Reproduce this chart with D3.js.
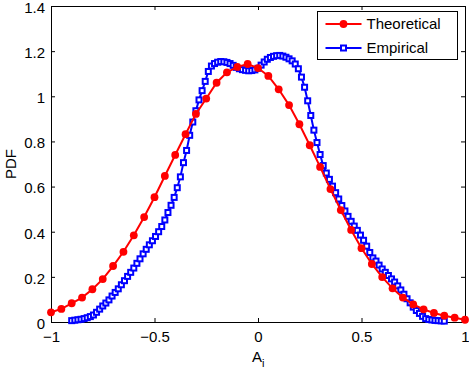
<!DOCTYPE html>
<html>
<head>
<meta charset="utf-8">
<script src="https://cdn.jsdelivr.net/npm/d3@7"></script>
<style>
  html, body { margin: 0; padding: 0; background: #fff; }
  svg { display: block; font-family: "Liberation Sans", Arial, Helvetica, sans-serif; }
</style>
</head>
<body>
<svg id="chart"></svg>
<script>
// Theoretical curve (red, filled circles)
const theoX = [-1, -0.95, -0.9, -0.85, -0.8, -0.75, -0.7, -0.65, -0.6, -0.55, -0.5,
  -0.45, -0.4, -0.35, -0.3, -0.25, -0.2, -0.15, -0.1, -0.05, 0,
  0.05, 0.1, 0.15, 0.2, 0.25, 0.3, 0.35, 0.4, 0.45, 0.5,
  0.55, 0.6, 0.65, 0.7, 0.75, 0.8, 0.85, 0.9, 0.95, 1];
const theoY = [0.043, 0.058, 0.083, 0.108, 0.145, 0.19, 0.248, 0.311, 0.384, 0.465, 0.553,
  0.647, 0.74, 0.832, 0.922, 0.99, 1.06, 1.106, 1.13, 1.143, 1.125,
  1.09, 1.031, 0.961, 0.876, 0.783, 0.687, 0.589, 0.496, 0.408, 0.327,
  0.257, 0.199, 0.149, 0.108, 0.078, 0.056, 0.04, 0.028, 0.019, 0.01];

// Empirical curve (blue, open squares)
const empX = [-0.9, -0.885, -0.87, -0.855, -0.84, -0.825, -0.81, -0.795, -0.78, -0.765,
  -0.75, -0.735, -0.72, -0.705, -0.69, -0.675, -0.66, -0.645, -0.63, -0.615,
  -0.6, -0.585, -0.57, -0.555, -0.54, -0.525, -0.51, -0.495, -0.48, -0.465,
  -0.45, -0.435, -0.42, -0.405, -0.39, -0.375, -0.36, -0.345, -0.33, -0.315,
  -0.3, -0.285, -0.27, -0.255, -0.24, -0.225, -0.21, -0.195, -0.18, -0.165,
  -0.15, -0.135, -0.12, -0.105, -0.09, -0.075, -0.06, -0.045, -0.03, -0.015,
  0, 0.015, 0.03, 0.045, 0.06, 0.075, 0.09, 0.105, 0.12, 0.135,
  0.15, 0.165, 0.18, 0.195, 0.21, 0.225, 0.24, 0.255, 0.27, 0.285,
  0.3, 0.315, 0.33, 0.345, 0.36, 0.375, 0.39, 0.405, 0.42, 0.435,
  0.45, 0.465, 0.48, 0.495, 0.51, 0.525, 0.54, 0.555, 0.57, 0.585,
  0.6, 0.615, 0.63, 0.645, 0.66, 0.675, 0.69, 0.705, 0.72, 0.735,
  0.75, 0.765, 0.78, 0.795, 0.81, 0.825, 0.84, 0.855, 0.87, 0.885, 0.9];
const empY = [0.006, 0.008, 0.01, 0.012, 0.015, 0.019, 0.024, 0.031, 0.043, 0.057,
  0.071, 0.084, 0.098, 0.115, 0.131, 0.147, 0.165, 0.183, 0.202, 0.22,
  0.239, 0.26, 0.28, 0.302, 0.322, 0.342, 0.36, 0.379, 0.4, 0.423,
  0.452, 0.485, 0.517, 0.552, 0.595, 0.643, 0.706, 0.76, 0.827, 0.886,
  0.936, 0.984, 1.025, 1.066, 1.11, 1.134, 1.145, 1.151, 1.154, 1.153,
  1.15, 1.145, 1.137, 1.128, 1.122, 1.118, 1.115, 1.113, 1.114, 1.117,
  1.124, 1.138, 1.152, 1.164, 1.172, 1.177, 1.18, 1.181, 1.178, 1.173,
  1.166, 1.157, 1.143, 1.122, 1.085, 1.04, 0.98, 0.915, 0.85, 0.795,
  0.742, 0.693, 0.66, 0.632, 0.602, 0.573, 0.545, 0.516, 0.492, 0.468,
  0.446, 0.425, 0.406, 0.385, 0.362, 0.336, 0.308, 0.284, 0.27, 0.252,
  0.235, 0.22, 0.206, 0.191, 0.177, 0.16, 0.142, 0.123, 0.103, 0.085,
  0.066, 0.051, 0.038, 0.025, 0.015, 0.011, 0.009, 0.007, 0.006, 0.005, 0.004];

// Ticks and labels
const xTicks = [-1, -0.5, 0, 0.5, 1];
const xTickLabels = ["\u22121", "\u22120.5", "0", "0.5", "1"];
const yTicks = [0, 0.2, 0.4, 0.6, 0.8, 1, 1.2, 1.4];
const yTickLabels = ["0", "0.2", "0.4", "0.6", "0.8", "1", "1.2", "1.4"];
const seriesNames = ["Theoretical", "Empirical"];

const width = 469;
const height = 372;
const marginLeft = 51;
const marginRight = 4;
const marginTop = 6;
const marginBottom = 50;
const tickLen = 4;

const svg = d3.select("#chart")
  .attr("width", width)
  .attr("height", height)
  .attr("viewBox", [0, 0, width, height]);

const x = d3.scaleLinear().domain([-1, 1]).range([marginLeft, width - marginRight]);
const y = d3.scaleLinear().domain([0, 1.4]).range([height - marginBottom, marginTop]);

const theo = theoX.map((v, i) => ({ x: v, y: theoY[i] }));
const emp = empX.map((v, i) => ({ x: v, y: empY[i] }));

const line = d3.line().x((d) => x(d.x)).y((d) => y(d.y));

// Axes (MATLAB style: box with inward ticks on all four sides)
const axisG = svg.append("g");

axisG.append("g")
  .attr("transform", `translate(0,${y(0)})`)
  .call(d3.axisBottom(x).tickValues(xTicks).tickSize(-tickLen).tickPadding(9)
    .tickFormat((d, i) => xTickLabels[i]))
  .call((g) => g.select(".domain").remove());

axisG.append("g")
  .attr("transform", `translate(0,${y(1.4)})`)
  .call(d3.axisTop(x).tickValues(xTicks).tickSize(-tickLen).tickFormat(""))
  .call((g) => g.select(".domain").remove());

axisG.append("g")
  .attr("transform", `translate(${x(-1)},0)`)
  .call(d3.axisLeft(y).tickValues(yTicks).tickSize(-tickLen).tickPadding(6)
    .tickFormat((d, i) => yTickLabels[i]))
  .call((g) => g.select(".domain").remove())
  .call((g) => g.selectAll(".tick text").attr("dy", "0.42em"));

axisG.append("g")
  .attr("transform", `translate(${x(1)},0)`)
  .call(d3.axisRight(y).tickValues(yTicks).tickSize(-tickLen).tickFormat(""))
  .call((g) => g.select(".domain").remove());

axisG.selectAll(".tick text")
  .attr("font-family", "'Liberation Sans', Arial, sans-serif")
  .attr("font-size", 15)
  .attr("fill", "#000");
axisG.selectAll(".tick line").attr("stroke", "#000");

// Box
svg.append("rect")
  .attr("x", x(-1) + 0.5)
  .attr("y", y(1.4) + 0.5)
  .attr("width", x(1) - x(-1))
  .attr("height", y(0) - y(1.4))
  .attr("fill", "none")
  .attr("stroke", "#000")
  .attr("stroke-width", 1);

// Empirical
svg.append("path")
  .datum(emp)
  .attr("fill", "none")
  .attr("stroke", "#0000ff")
  .attr("stroke-width", 2)
  .attr("d", line);

svg.append("g")
  .selectAll("rect")
  .data(emp)
  .join("rect")
  .attr("x", (d) => x(d.x) - 2.5)
  .attr("y", (d) => y(d.y) - 2.5)
  .attr("width", 5)
  .attr("height", 5)
  .attr("fill", "#fff")
  .attr("stroke", "#0000ff")
  .attr("stroke-width", 2);

// Theoretical
svg.append("path")
  .datum(theo)
  .attr("fill", "none")
  .attr("stroke", "#ff0000")
  .attr("stroke-width", 2)
  .attr("d", line);

svg.append("g")
  .selectAll("circle")
  .data(theo)
  .join("circle")
  .attr("cx", (d) => x(d.x))
  .attr("cy", (d) => y(d.y))
  .attr("r", 3.9)
  .attr("fill", "#ff0000");

// Axis titles
svg.append("text")
  .attr("transform", `translate(16,${(y(0) + y(1.4)) / 2}) rotate(-90)`)
  .attr("text-anchor", "middle")
  .attr("font-size", 15)
  .text("PDF");

const xt = svg.append("text")
  .attr("x", x(0) - 6)
  .attr("y", 362)
  .attr("font-size", 15);
xt.append("tspan").text("A");
xt.append("tspan").attr("dy", 5).attr("font-size", 11).text("i");

// Legend
const legend = svg.append("g").attr("transform", "translate(317.5,11.5)");
legend.append("rect")
  .attr("width", 140)
  .attr("height", 48)
  .attr("fill", "#fff")
  .attr("stroke", "#000")
  .attr("stroke-width", 1);

const rows = legend.selectAll("g.row")
  .data(seriesNames)
  .join("g")
  .attr("class", "row")
  .attr("transform", (d, i) => `translate(0,${12.5 + i * 24})`);

rows.append("line")
  .attr("x1", 8).attr("x2", 44)
  .attr("stroke", (d, i) => (i === 0 ? "#ff0000" : "#0000ff"))
  .attr("stroke-width", 2);

rows.filter((d, i) => i === 0).append("circle")
  .attr("cx", 26).attr("r", 3.9).attr("fill", "#ff0000");

rows.filter((d, i) => i === 1).append("rect")
  .attr("x", 23.5).attr("y", -2.5).attr("width", 5).attr("height", 5)
  .attr("fill", "#fff").attr("stroke", "#0000ff").attr("stroke-width", 2);

rows.append("text")
  .attr("x", 49)
  .attr("dy", "0.35em")
  .attr("font-size", 15)
  .text((d) => d);
</script>
</body>
</html>
